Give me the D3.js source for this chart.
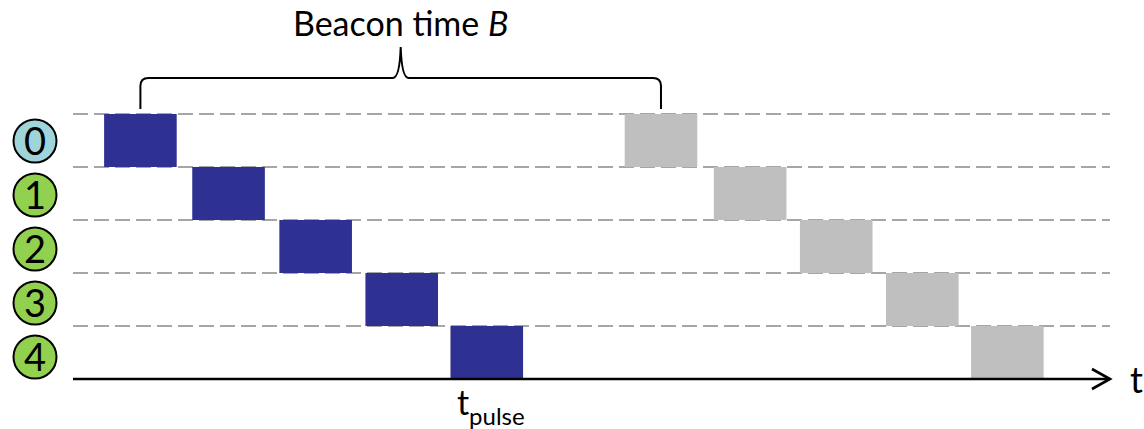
<!DOCTYPE html>
<html>
<head>
<meta charset="utf-8">
<script src="https://cdn.jsdelivr.net/npm/d3@7"></script>
<style>
  html, body { margin: 0; padding: 0; background: #fff; }
  svg { display: block; }
  text { font-family: Lato, "Open Sans", "Liberation Sans", sans-serif; fill: #000; }
</style>
</head>
<body>
<svg id="chart" width="1144" height="429"></svg>
<script>
// ---- data ----
const rows = ["0", "1", "2", "3", "4"];
const nodeKinds = ["sink", "node", "node", "node", "node"];
const firstBeaconStart = [3.0, 11.5, 19.9, 28.2, 36.4];
const secondBeaconStart = [53.2, 61.8, 70.1, 78.4, 86.6];
const pulseWidth = 7.0;
const titleText = "Beacon time ";
const titleVar = "B";
const axisLabel = "t";
const pulseLabelMain = "t";
const pulseLabelSub = "pulse";
const pulseRowIndex = 4;

// ---- layout ----
const W = 1144, H = 429;
const svg = d3.select("#chart");
const x = d3.scaleLinear().domain([0, 100]).range([73, 1110]);
const y = d3.scaleBand().domain(rows).range([114, 379]).padding(0);
const yc = d3.scalePoint().domain(rows).range([141, 357]);
const colors = { blue: "#2e3192", gray: "#bfbfbf", sink: "#9fd5da", node: "#92d050", dash: "#a6a6a6" };

// dashed row lines
svg.append("g").selectAll("line").data(rows).join("line")
  .attr("x1", x(0)).attr("x2", x(100))
  .attr("y1", d => y(d)).attr("y2", d => y(d))
  .attr("stroke", colors.dash).attr("stroke-width", 2)
  .attr("stroke-dasharray", "15,6");

// first beacon pulses
svg.append("g").selectAll("rect").data(rows).join("rect")
  .attr("x", (d, i) => x(firstBeaconStart[i]))
  .attr("width", (d, i) => x(firstBeaconStart[i] + pulseWidth) - x(firstBeaconStart[i]))
  .attr("y", d => y(d)).attr("height", y.bandwidth())
  .attr("fill", colors.blue);

// second beacon pulses
svg.append("g").selectAll("rect").data(rows).join("rect")
  .attr("x", (d, i) => x(secondBeaconStart[i]))
  .attr("width", (d, i) => x(secondBeaconStart[i] + pulseWidth) - x(secondBeaconStart[i]))
  .attr("y", d => y(d)).attr("height", y.bandwidth())
  .attr("fill", colors.gray);

// time axis
const axisY = y.range()[1];
svg.append("line")
  .attr("x1", x(0)).attr("x2", x(100))
  .attr("y1", axisY).attr("y2", axisY)
  .attr("stroke", "#000").attr("stroke-width", 2.6);
svg.append("path")
  .attr("d", `M${x(100) - 18},${axisY - 10}L${x(100)},${axisY}L${x(100) - 18},${axisY + 10}`)
  .attr("fill", "none").attr("stroke", "#000").attr("stroke-width", 2.6);
svg.append("text")
  .attr("x", x(100) + 20).attr("y", axisY + 14)
  .attr("font-size", 36).text(axisLabel);

// node circles
const nodes = svg.append("g").selectAll("g").data(rows).join("g")
  .attr("transform", d => `translate(35,${yc(d)})`);
nodes.append("circle").attr("r", 21.5)
  .attr("fill", (d, i) => colors[nodeKinds[i]])
  .attr("stroke", "#000").attr("stroke-width", 2);
nodes.append("text").attr("text-anchor", "middle").attr("y", 13.5)
  .attr("font-size", 38).text(d => d);

// brace spanning beacon time
const bx0 = x(firstBeaconStart[0] + pulseWidth / 2);
const bx1 = x(secondBeaconStart[0] + pulseWidth / 2);
const bxm = (bx0 + bx1) / 2;
const byBottom = 109, byLine = 78, byTip = 47, r = 8;
const brace = `M${bx0},${byBottom} L${bx0},${byLine + r} Q${bx0},${byLine} ${bx0 + r},${byLine}
  L${bxm - 8},${byLine} Q${bxm - 1},${byLine} ${bxm},${byTip}
  Q${bxm + 1},${byLine} ${bxm + 8},${byLine}
  L${bx1 - r},${byLine} Q${bx1},${byLine} ${bx1},${byLine + r} L${bx1},${byBottom}`;
svg.append("path").attr("d", brace).attr("fill", "none")
  .attr("stroke", "#000").attr("stroke-width", 2);

// title
const title = svg.append("text").attr("x", bxm).attr("y", 36)
  .attr("text-anchor", "middle").attr("font-size", 34);
title.append("tspan").text(titleText);
title.append("tspan").attr("font-style", "italic").text(titleVar);

// t_pulse label
const pl = svg.append("text")
  .attr("x", x(firstBeaconStart[pulseRowIndex] + pulseWidth / 2) + 4)
  .attr("y", 415).attr("text-anchor", "middle").attr("font-size", 34);
pl.append("tspan").text(pulseLabelMain);
pl.append("tspan").attr("font-size", 24).attr("dy", 10).text(pulseLabelSub);
</script>
</body>
</html>
